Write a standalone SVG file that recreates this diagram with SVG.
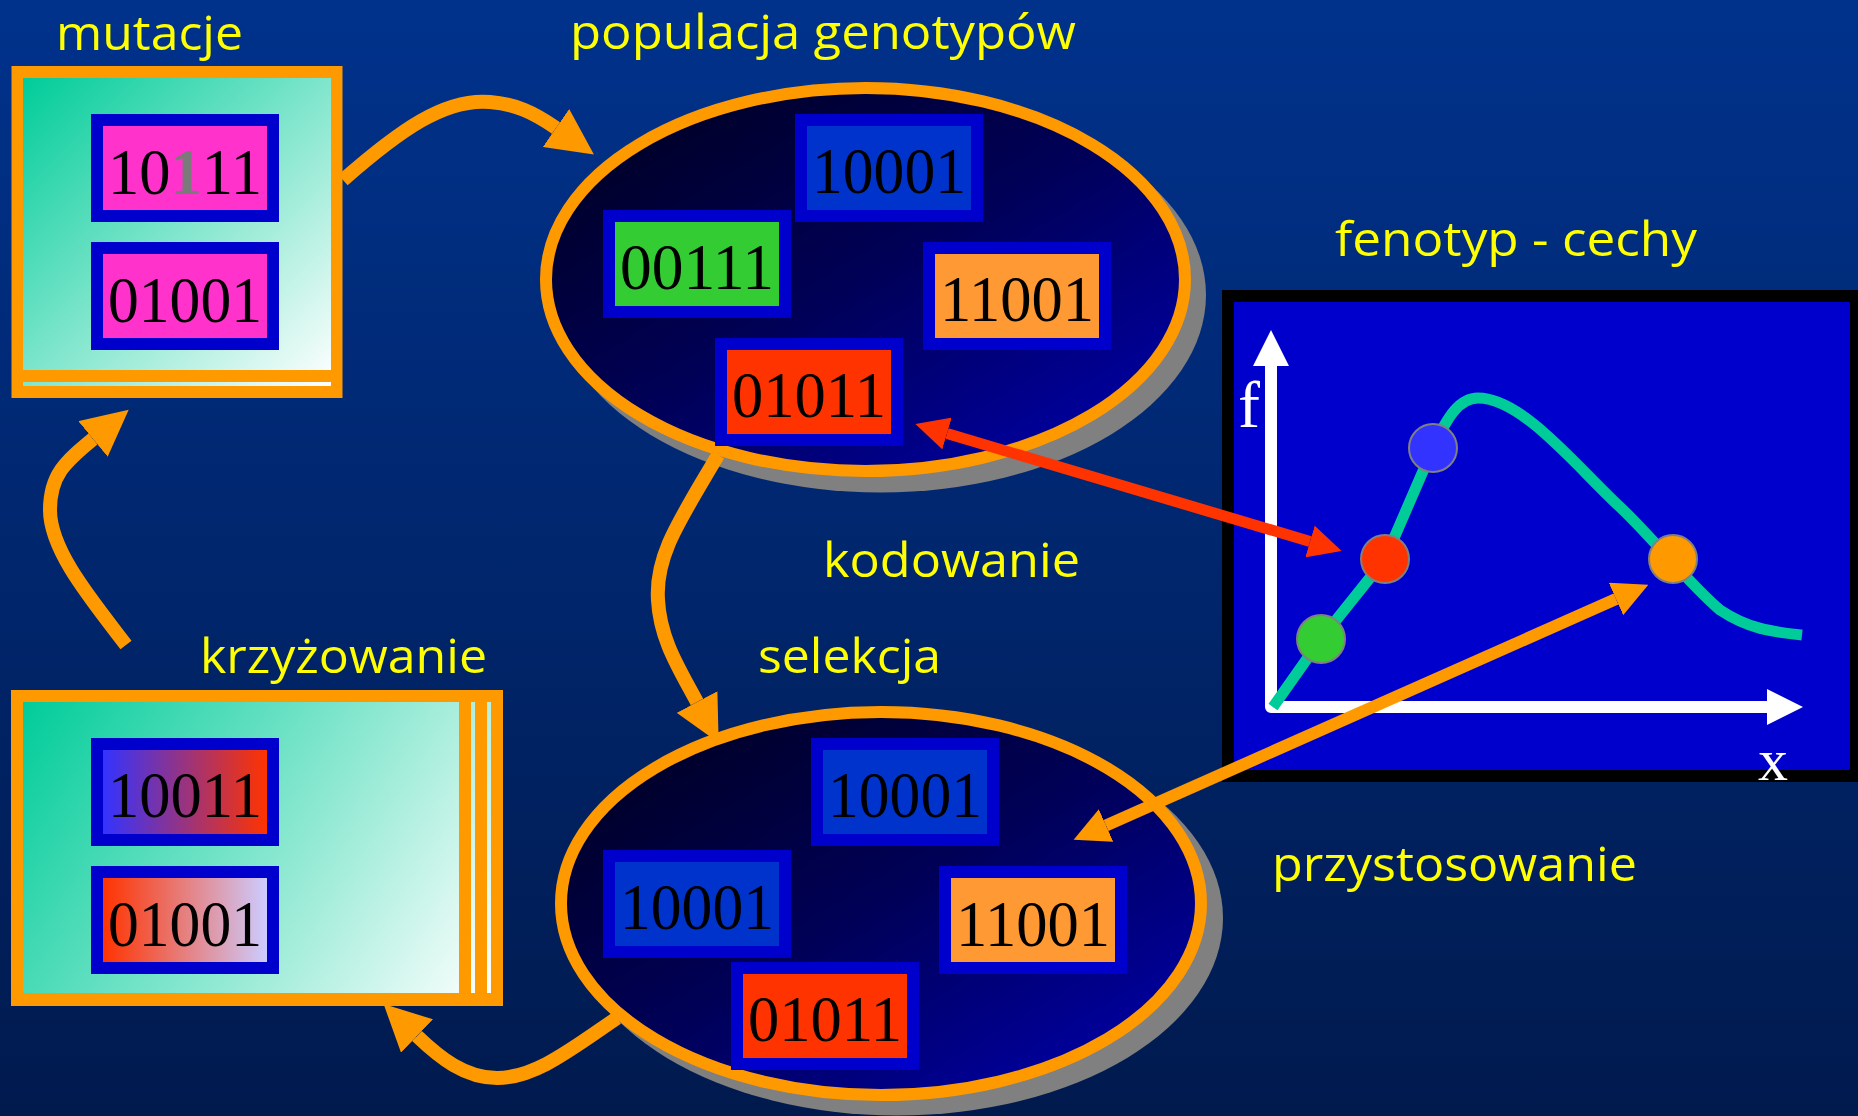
<svg xmlns="http://www.w3.org/2000/svg" width="1858" height="1116" viewBox="0 0 1858 1116">
<style>
.lbl{font-family:"Open Sans","Noto Sans","DejaVu Sans",sans-serif;font-size:48px;fill:#FFFF00}
.bits{font-family:"Liberation Serif","DejaVu Serif",serif;font-size:65px;fill:#000000;text-anchor:middle}
.chipB{fill:#0000CC}
.orng{fill:#FF9900}
.ell{fill:url(#ellG);stroke:#FF9900;stroke-width:12}
.shadow{fill:#808080}
.conn{fill:none;stroke:#FF9900;stroke-width:14;stroke-linecap:butt}
.dot{stroke:#808080;stroke-width:2}
</style>
<defs>
<linearGradient id="bgG" x1="0" y1="0" x2="0" y2="1">
<stop offset="0" stop-color="#00328C"/>
<stop offset="1" stop-color="#001A4E"/>
</linearGradient>
<linearGradient id="ellG" x1="0" y1="0" x2="1" y2="1">
<stop offset="0" stop-color="#00001A"/>
<stop offset="0.5" stop-color="#000058"/>
<stop offset="1" stop-color="#0000B4"/>
</linearGradient>
<linearGradient id="mutG" gradientUnits="userSpaceOnUse" x1="23" y1="78" x2="331" y2="386">
<stop offset="0" stop-color="#00CC99"/>
<stop offset="1" stop-color="#FFFFFF"/>
</linearGradient>
<linearGradient id="krzG" gradientUnits="userSpaceOnUse" x1="23" y1="702" x2="491" y2="1000">
<stop offset="0" stop-color="#00CC99"/>
<stop offset="1" stop-color="#FFFFFF"/>
</linearGradient>
<linearGradient id="c1G" x1="0" y1="0" x2="1" y2="0">
<stop offset="0" stop-color="#3333FF"/>
<stop offset="1" stop-color="#FF3300"/>
</linearGradient>
<linearGradient id="c2G" x1="0" y1="0" x2="1" y2="0">
<stop offset="0" stop-color="#FF3300"/>
<stop offset="1" stop-color="#CCCCFF"/>
</linearGradient>
<marker id="mOL" viewBox="0 0 10 10" refX="0" refY="5" markerWidth="3.3" markerHeight="3.3" orient="auto-start-reverse" markerUnits="strokeWidth"><path d="M0,0 L10,5 L0,10 z" fill="#FF9900"/></marker>
<marker id="mOS" viewBox="0 0 10 10" refX="0" refY="5" markerWidth="2.95" markerHeight="2.95" orient="auto-start-reverse" markerUnits="strokeWidth"><path d="M0,0 L10,5 L0,10 z" fill="#FF9900"/></marker>
<marker id="mR" viewBox="0 0 10 10" refX="0" refY="5" markerWidth="3" markerHeight="3" orient="auto-start-reverse" markerUnits="strokeWidth"><path d="M0,0 L10,5 L0,10 z" fill="#FF3300"/></marker>
<marker id="mW" viewBox="0 0 10 10" refX="0" refY="5" markerWidth="3" markerHeight="3" orient="auto-start-reverse" markerUnits="strokeWidth"><path d="M0,0 L10,5 L0,10 z" fill="#FFFFFF"/></marker>
</defs>

<rect id="background" x="0" y="0" width="1858" height="1116" fill="url(#bgG)"/>

<!-- mutacje -->
<g id="mutacje">
<text class="lbl" x="56" y="50" textLength="187" lengthAdjust="spacingAndGlyphs">mutacje</text>
<rect class="orng" x="11.5" y="66" width="331" height="332"/>
<rect x="23" y="78" width="308" height="292" fill="url(#mutG)"/>
<rect x="23" y="382" width="308" height="4" fill="url(#mutG)"/>
<rect class="chipB" x="91" y="114" width="188" height="108"/>
<rect x="103" y="126" width="164" height="84" fill="#FF33CC"/>
<text class="bits" x="185" y="194" textLength="154" lengthAdjust="spacingAndGlyphs">10<tspan fill="#7A7A7A" font-weight="bold">1</tspan>11</text>
<rect class="chipB" x="91" y="242" width="188" height="108"/>
<rect x="103" y="254" width="164" height="84" fill="#FF33CC"/>
<text class="bits" x="185" y="322" textLength="154" lengthAdjust="spacingAndGlyphs">01001</text>
</g>

<!-- populacja genotypow -->
<g id="populacja">
<text class="lbl" x="570" y="49" textLength="506" lengthAdjust="spacingAndGlyphs">populacja genotypów</text>
<ellipse class="shadow" cx="880.5" cy="295" rx="325.5" ry="197.5"/>
<ellipse class="ell" cx="865.5" cy="279.5" rx="319.5" ry="191.5"/>
<rect class="chipB" x="795" y="114" width="188" height="108"/>
<rect x="807" y="126" width="164" height="84" fill="#0033CC"/>
<text class="bits" x="889" y="193" textLength="154" lengthAdjust="spacingAndGlyphs">10001</text>
<rect class="chipB" x="603" y="210" width="188" height="108"/>
<rect x="615" y="222" width="164" height="84" fill="#33CC33"/>
<text class="bits" x="697" y="289" textLength="154" lengthAdjust="spacingAndGlyphs">00111</text>
<rect class="chipB" x="923" y="242" width="188" height="108"/>
<rect x="935" y="254" width="164" height="84" fill="#FF9933"/>
<text class="bits" x="1017" y="321" textLength="154" lengthAdjust="spacingAndGlyphs">11001</text>
<rect class="chipB" x="715" y="338" width="188" height="108"/>
<rect x="727" y="350" width="164" height="84" fill="#FF3300"/>
<text class="bits" x="809" y="417" textLength="154" lengthAdjust="spacingAndGlyphs">01011</text>
</g>

<!-- selekcja population -->
<g id="selekcja">
<ellipse class="shadow" cx="897" cy="918" rx="326" ry="197.5"/>
<ellipse class="ell" cx="881" cy="903.5" rx="320" ry="191.5"/>
<rect class="chipB" x="811" y="738" width="188" height="108"/>
<rect x="823" y="750" width="164" height="84" fill="#0033CC"/>
<text class="bits" x="905" y="817" textLength="154" lengthAdjust="spacingAndGlyphs">10001</text>
<rect class="chipB" x="603" y="850" width="188" height="108"/>
<rect x="615" y="862" width="164" height="84" fill="#0033CC"/>
<text class="bits" x="697" y="929" textLength="154" lengthAdjust="spacingAndGlyphs">10001</text>
<rect class="chipB" x="939" y="866" width="188" height="108"/>
<rect x="951" y="878" width="164" height="84" fill="#FF9933"/>
<text class="bits" x="1033" y="946" textLength="154" lengthAdjust="spacingAndGlyphs">11001</text>
<rect class="chipB" x="731" y="962" width="188" height="108"/>
<rect x="743" y="974" width="164" height="84" fill="#FF3300"/>
<text class="bits" x="825" y="1041" textLength="154" lengthAdjust="spacingAndGlyphs">01011</text>
</g>

<!-- krzyzowanie -->
<g id="krzyzowanie">
<text class="lbl" x="200" y="673" textLength="287" lengthAdjust="spacingAndGlyphs">krzyżowanie</text>
<rect class="orng" x="11" y="690" width="492" height="316"/>
<rect x="23" y="702" width="436" height="291" fill="url(#krzG)"/>
<rect x="471" y="702" width="4" height="291" fill="url(#krzG)"/>
<rect x="487" y="702" width="4" height="291" fill="url(#krzG)"/>
<rect class="chipB" x="91" y="738" width="188" height="108"/>
<rect x="103" y="750" width="164" height="84" fill="url(#c1G)"/>
<text class="bits" x="185" y="817" textLength="154" lengthAdjust="spacingAndGlyphs">10011</text>
<rect class="chipB" x="91" y="866" width="188" height="108"/>
<rect x="103" y="878" width="164" height="84" fill="url(#c2G)"/>
<text class="bits" x="185" y="946" textLength="154" lengthAdjust="spacingAndGlyphs">01001</text>
</g>

<!-- fenotyp chart -->
<g id="fenotyp">
<text class="lbl" x="1335" y="256" textLength="362" lengthAdjust="spacingAndGlyphs">fenotyp - cechy</text>
<rect x="1222" y="290" width="636" height="492" fill="#000000"/>
<rect x="1234" y="302" width="616" height="468" fill="#0000CC"/>
<path d="M1271,366 L1271,707 L1767,707" fill="none" stroke="#FFFFFF" stroke-width="12" stroke-linejoin="round" marker-start="url(#mW)" marker-end="url(#mW)"/>
<text x="1238" y="427" font-family="Liberation Serif, DejaVu Serif, serif" font-size="66" fill="#FFFFFF">f</text>
<text x="1758" y="780" font-family="Liberation Serif, DejaVu Serif, serif" font-size="60" fill="#FFFFFF">x</text>
<path d="M1273,707 L1321,639 L1385,559 L1433,448 C1448,415 1460,398 1478,398 C1522,398 1575,465 1620,507 C1652,537 1690,585 1720,610 C1750,630 1775,632 1802,635" fill="none" stroke="#00CC99" stroke-width="11" stroke-linejoin="round"/>
<circle class="dot" cx="1321" cy="639" r="24" fill="#33CC33"/>
<circle class="dot" cx="1385" cy="559" r="24" fill="#FF3300"/>
<circle class="dot" cx="1433" cy="448" r="24" fill="#3333FF"/>
<circle class="dot" cx="1673" cy="559" r="24" fill="#FF9900"/>
</g>

<!-- other labels -->
<g id="labels">
<text class="lbl" x="823" y="577" textLength="257" lengthAdjust="spacingAndGlyphs">kodowanie</text>
<text class="lbl" x="758" y="673" textLength="183" lengthAdjust="spacingAndGlyphs">selekcja</text>
<text class="lbl" x="1272" y="881" textLength="365" lengthAdjust="spacingAndGlyphs">przystosowanie</text>
</g>

<!-- connectors -->
<g id="connectors">
<path class="conn" d="M343,180 C400,130 445,98 490,102 C515,104 533,112 556,128" marker-end="url(#mOL)"/>
<path class="conn" d="M718,455 C680,520 655,555 658,600 C660,640 680,670 697,702" marker-end="url(#mOL)"/>
<path class="conn" d="M617,1018 C570,1050 535,1078 497,1078 C465,1078 440,1058 417,1036" marker-end="url(#mOL)"/>
<path class="conn" d="M126,645 C90,598 50,550 50,510 C50,475 65,462 93,439" marker-end="url(#mOL)"/>
<line x1="947" y1="433.5" x2="1310" y2="541.5" stroke="#FF3300" stroke-width="11" marker-start="url(#mR)" marker-end="url(#mR)"/>
<line x1="1106" y1="825.5" x2="1616" y2="599" stroke="#FF9900" stroke-width="12" marker-start="url(#mOS)" marker-end="url(#mOS)"/>
</g>
</svg>
